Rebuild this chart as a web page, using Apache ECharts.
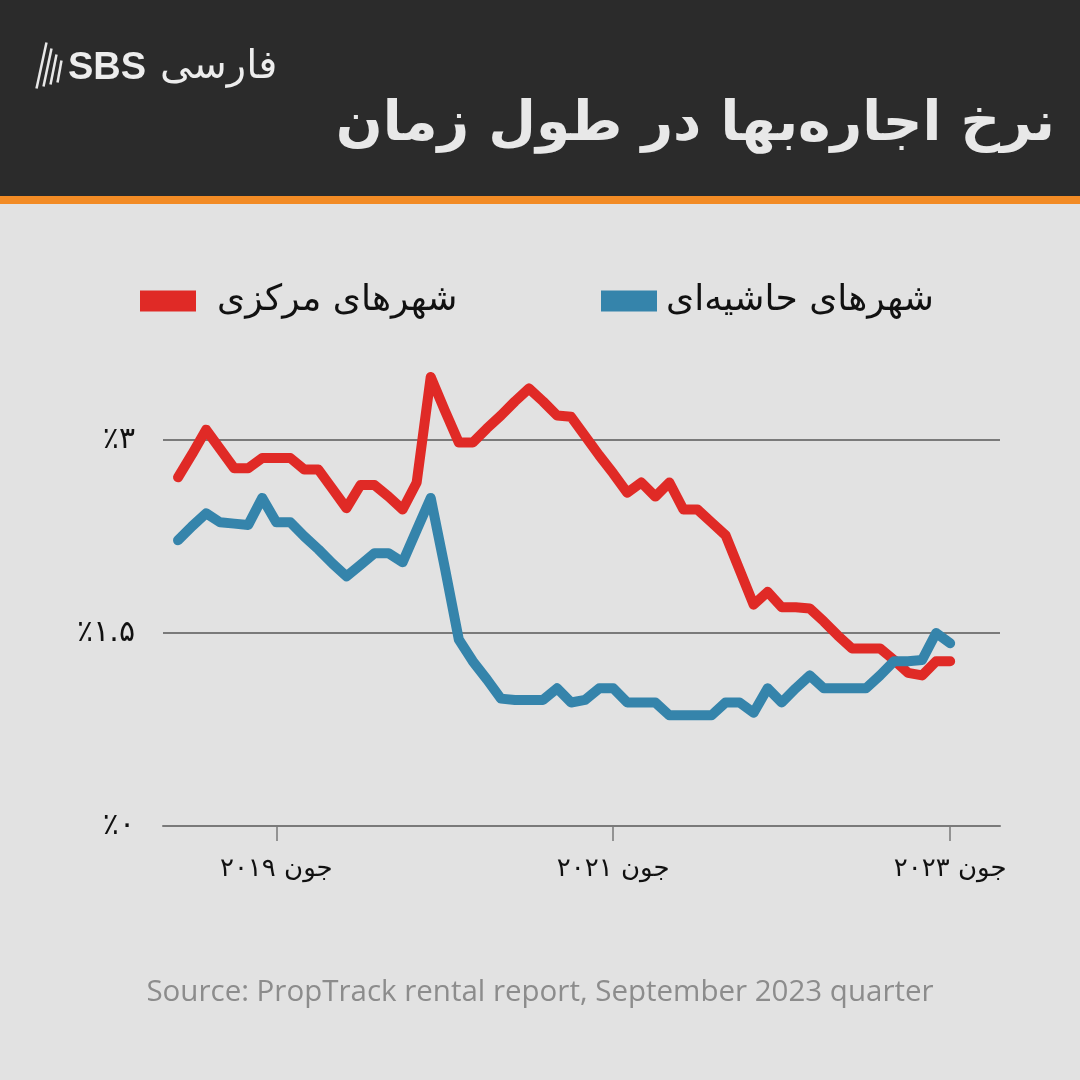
<!DOCTYPE html>
<html>
<head>
<meta charset="utf-8">
<script src="https://cdn.jsdelivr.net/npm/echarts@6/dist/echarts.min.js"></script>
<style>
  html, body { margin: 0; padding: 0; background: #e2e2e2; }
  #chart { width: 1080px; height: 1080px; }
</style>
</head>
<body>
<div id="chart"></div>
<script>
// months from Nov 2018 to Jun 2023 (one point per month)
const months = [
  '2018-11', '2018-12', '2019-01', '2019-02', '2019-03', '2019-04', '2019-05', '2019-06',
  '2019-07', '2019-08', '2019-09', '2019-10', '2019-11', '2019-12', '2020-01', '2020-02',
  '2020-03', '2020-04', '2020-05', '2020-06', '2020-07', '2020-08', '2020-09', '2020-10',
  '2020-11', '2020-12', '2021-01', '2021-02', '2021-03', '2021-04', '2021-05', '2021-06',
  '2021-07', '2021-08', '2021-09', '2021-10', '2021-11', '2021-12', '2022-01', '2022-02',
  '2022-03', '2022-04', '2022-05', '2022-06', '2022-07', '2022-08', '2022-09', '2022-10',
  '2022-11', '2022-12', '2023-01', '2023-02', '2023-03', '2023-04', '2023-05', '2023-06'
];

// capital cities (red)
const capitalValues = [
  2.71, 2.89, 3.08, 2.93, 2.78, 2.78, 2.86, 2.86, 2.86, 2.77, 2.77, 2.62, 2.47, 2.65,
  2.65, 2.56, 2.46, 2.67, 3.49, 3.23, 2.98, 2.98, 3.09, 3.19, 3.30, 3.40, 3.30, 3.19,
  3.18, 3.03, 2.88, 2.74, 2.59, 2.67, 2.56, 2.67, 2.46, 2.46, 2.36, 2.26, 1.99, 1.72,
  1.82, 1.70, 1.70, 1.69, 1.59, 1.48, 1.38, 1.38, 1.38, 1.29, 1.19, 1.17, 1.28, 1.28
];

// regional areas (blue)
const regionalValues = [
  2.22, 2.33, 2.43, 2.36, 2.35, 2.34, 2.55, 2.36, 2.36, 2.25, 2.15, 2.04, 1.94, 2.03,
  2.12, 2.12, 2.05, 2.30, 2.55, 2.01, 1.45, 1.28, 1.14, 0.99, 0.98, 0.98, 0.98, 1.07,
  0.96, 0.98, 1.07, 1.07, 0.96, 0.96, 0.96, 0.86, 0.86, 0.86, 0.86, 0.96, 0.96, 0.88,
  1.07, 0.96, 1.07, 1.17, 1.07, 1.07, 1.07, 1.07, 1.17, 1.28, 1.28, 1.29, 1.50, 1.42
];

const seriesNames = ['شهرهای مرکزی', 'شهرهای حاشیه‌ای'];
const xTickIndexes = [7, 31, 55];
const xTickLabels = ['جون ۲۰۱۹', 'جون ۲۰۲۱', 'جون ۲۰۲۳'];

const faDigits = '۰۱۲۳۴۵۶۷۸۹';
const toFa = s => String(s).replace(/[0-9]/g, d => faDigits[+d]);

const FA_FONT = "'DejaVu Sans', 'Noto Sans', sans-serif";

const chart = echarts.init(document.getElementById('chart'));

const toPairs = vals => vals.map((v, i) => [i, v]);

const option = {
  backgroundColor: '#e2e2e2',
  animation: false,
  graphic: [
    {
      type: 'rect',
      left: 0, top: 0,
      shape: { width: 1080, height: 196 },
      style: { fill: '#2b2b2b' },
      z: 0
    },
    {
      type: 'rect',
      left: 0, top: 196,
      shape: { width: 1080, height: 8 },
      style: { fill: '#f28b25' },
      z: 0
    },
    {
      // title
      type: 'text',
      right: 25, top: 98,
      style: {
        text: 'نرخ اجاره‌بها در طول زمان',
        font: "bold 55px " + FA_FONT,
        fill: '#e8e8e8'
      }
    },
    {
      // logo mark
      type: 'group',
      left: 34, top: 40,
      children: [0, 1, 2, 3].map(k => ({
        type: 'line',
        shape: { x1: 14 + k * 5, y1: 2 + k * 6, x2: 4 + k * 7, y2: 48 - k * 2 },
        style: { stroke: '#e8e8e8', lineWidth: 2.5 }
      }))
    },
    {
      type: 'text',
      left: 68, top: 50,
      style: {
        text: 'SBS',
        font: "bold 38px 'Liberation Sans', Arial, sans-serif",
        fill: '#ededed'
      }
    },
    {
      type: 'text',
      left: 160, top: 48,
      style: {
        text: 'فارسی',
        font: "40px " + FA_FONT,
        fill: '#ededed'
      }
    },
    {
      // source note
      type: 'text',
      left: 'center', top: 978,
      style: {
        text: 'Source: PropTrack rental report, September 2023 quarter',
        font: "29.5px 'Open Sans', sans-serif",
        fill: '#8c8c8c'
      }
    }
  ],
  legend: [
    {
      data: [seriesNames[0]],
      left: 135, top: 278,
      icon: 'rect',
      itemWidth: 56, itemHeight: 21,
      textStyle: { fontFamily: FA_FONT, fontSize: 36, color: '#111', padding: [0, 0, 0, 16] }
    },
    {
      data: [seriesNames[1]],
      left: 596, top: 278,
      icon: 'rect',
      itemWidth: 56, itemHeight: 21,
      textStyle: { fontFamily: FA_FONT, fontSize: 36, color: '#111', padding: [0, 0, 0, 4] }
    }
  ],
  grid: { left: 163, right: 80, top: 826 - 3.6 * 128.67, bottom: 1080 - 826, containLabel: false },
  xAxis: {
    type: 'value',
    min: -1.07,
    max: 58.55,
    axisLine: { show: true, lineStyle: { color: '#7a7a7a', width: 2 } },
    axisTick: {
      show: true,
      customValues: xTickIndexes,
      length: 15,
      lineStyle: { color: '#7a7a7a', width: 1.5 }
    },
    axisLabel: {
      customValues: xTickIndexes,
      formatter: v => xTickLabels[xTickIndexes.indexOf(Math.round(v))] || '',
      fontFamily: FA_FONT,
      fontSize: 26,
      color: '#111',
      margin: 30
    },
    splitLine: { show: false }
  },
  yAxis: {
    type: 'value',
    min: 0,
    max: 3.6,
    interval: 1.5,
    axisLine: { show: false },
    axisTick: { show: false },
    axisLabel: {
      formatter: v => '٪' + toFa(v),
      fontFamily: FA_FONT,
      fontSize: 30,
      color: '#111',
      margin: 28,
      showMaxLabel: false
    },
    splitLine: { show: true, showMaxLine: false, lineStyle: { color: '#7a7a7a', width: 2 } }
  },
  series: [
    {
      name: seriesNames[0],
      type: 'line',
      data: toPairs(capitalValues),
      showSymbol: false,
      color: '#e02a26',
      lineStyle: { width: 10, cap: 'round', join: 'round', color: '#e02a26' },
      z: 3
    },
    {
      name: seriesNames[1],
      type: 'line',
      data: toPairs(regionalValues),
      showSymbol: false,
      color: '#3584ab',
      lineStyle: { width: 10, cap: 'round', join: 'round', color: '#3584ab' },
      z: 4
    }
  ]
};

chart.setOption(option);
</script>
</body>
</html>
